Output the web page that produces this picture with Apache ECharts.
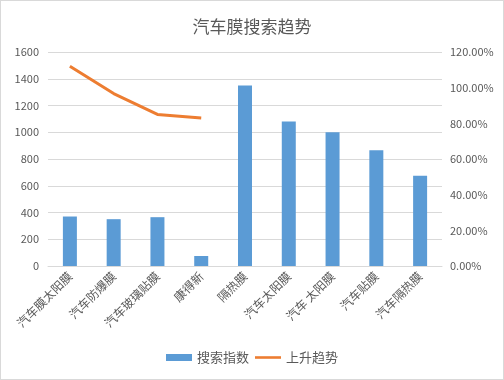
<!DOCTYPE html>
<html><head><meta charset="utf-8">
<script src="https://cdn.jsdelivr.net/npm/echarts@6/dist/echarts.min.js"></script>
<style>html,body{margin:0;padding:0;background:#fff}#c{width:502px;height:378px;border:1px solid #d9d9d9}</style>
</head><body><div id="c"></div>
<script>
const categories = ['汽车膜太阳膜','汽车防爆膜','汽车玻璃贴膜','康得新','隔热膜','汽车太阳膜','汽车 太阳膜','汽车贴膜','汽车隔热膜'];
const searchIndex = [370, 350, 365, 75, 1350, 1080, 1000, 865, 675];
const trend = [1.12, 0.967, 0.85, 0.83, null, null, null, null, null];
const leftTicks = [0, 1600, 200];
const rightTicks = [0, 1.2, 0.2];
const chart = echarts.init(document.getElementById('c'));
const font = 'Microsoft YaHei, "Noto Sans CJK SC", sans-serif';
chart.setOption({
  animation: false,
  textStyle: {fontFamily: font},
  title: {text: '汽车膜搜索趋势', left: 'center', top: 12, textStyle: {fontSize: 17, fontWeight: 'normal', color: '#595959', fontFamily: font}},
  legend: {bottom: 10, itemGap: 6, itemWidth: 26, itemHeight: 7, textStyle: {fontSize: 13, color: '#595959'},
    data: [{name: '搜索指数', icon: 'rect'}, {name: '上升趋势', icon: 'path://M0,0 L10,0 L10,1 L0,1 Z'}]},
  grid: {left: 47, right: 61, top: 51, bottom: 113, containLabel: false},
  xAxis: {type: 'category', data: categories,
    axisLine: {lineStyle: {color: '#d9d9d9'}}, axisTick: {show: false},
    axisLabel: {rotate: 45, interval: 0, fontSize: 12, color: '#595959', margin: 8}},
  yAxis: [
    {type: 'value', min: leftTicks[0], max: leftTicks[1], interval: leftTicks[2],
      axisLabel: {fontSize: 11, color: '#595959', margin: 9, formatter: v => String(v)}, axisLine: {show: false}, axisTick: {show: false},
      splitLine: {lineStyle: {color: '#d9d9d9'}}},
    {type: 'value', min: rightTicks[0], max: rightTicks[1], interval: rightTicks[2],
      axisLabel: {fontSize: 11, color: '#595959', margin: 8, formatter: v => (v*100).toFixed(2) + '%'},
      axisLine: {show: false}, axisTick: {show: false}, splitLine: {show: false}}
  ],
  series: [
    {name: '搜索指数', type: 'bar', data: searchIndex, barWidth: 14, itemStyle: {color: '#5b9bd5'}},
    {name: '上升趋势', type: 'line', yAxisIndex: 1, data: trend, symbol: 'none', lineStyle: {width: 3, color: '#ed7d31'}, itemStyle: {color: '#ed7d31'}}
  ]
});
</script></body></html>
